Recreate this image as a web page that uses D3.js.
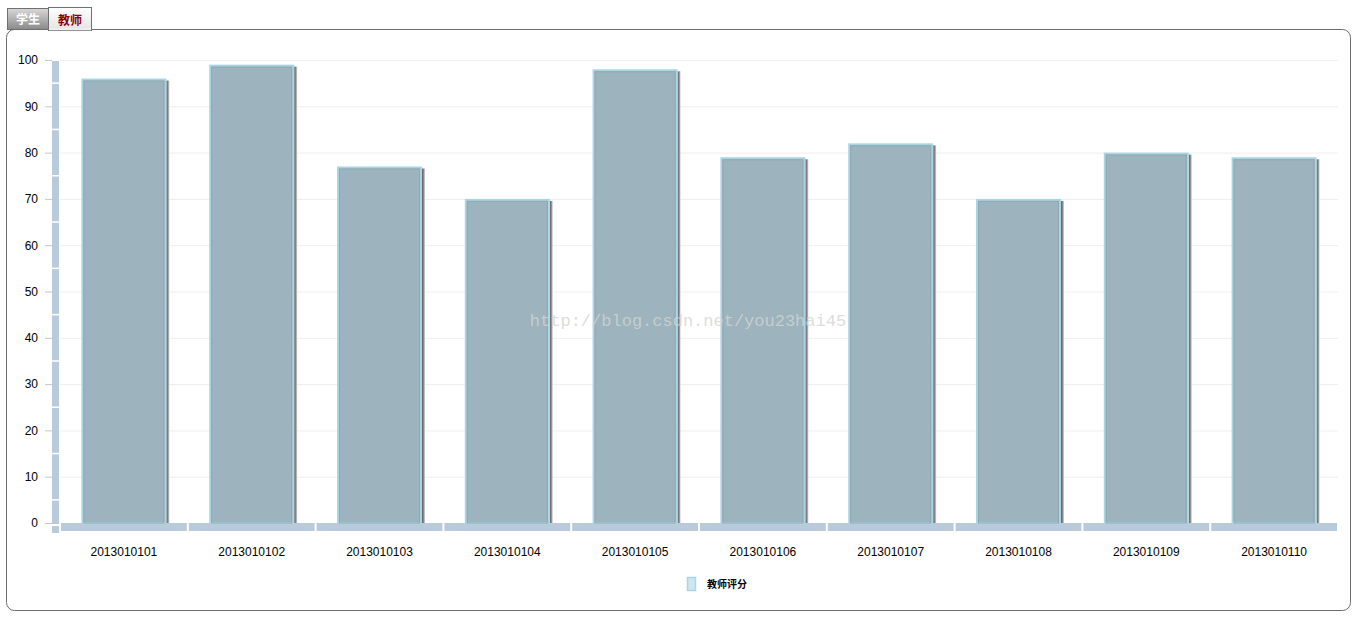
<!DOCTYPE html>
<html><head><meta charset="utf-8">
<script src="https://cdn.jsdelivr.net/npm/d3@7"></script>
<style>body{margin:0;background:#fff;font-family:Arial,"Liberation Sans",sans-serif}</style>
</head><body><svg id="c" width="1358" height="619"></svg>
<script>
const categories = ["2013010101","2013010102","2013010103","2013010104","2013010105","2013010106","2013010107","2013010108","2013010109","2013010110"];
const scores = [96, 99, 77, 70, 98, 79, 82, 70, 80, 79];
const yTicks = [0,10,20,30,40,50,60,70,80,90,100];
const seriesName = "教师评分";
const tabs = ["学生","教师"];

(function(){
const svg = d3.select("#c");
const defs = svg.append("defs");
const g1 = defs.append("linearGradient").attr("id","tabG").attr("x1",0).attr("y1",0).attr("x2",0).attr("y2",1);
g1.append("stop").attr("offset","0").attr("stop-color","#d8d8d8");
g1.append("stop").attr("offset","1").attr("stop-color","#8a8a8a");
const g2 = defs.append("linearGradient").attr("id","tabW").attr("x1",0).attr("y1",0).attr("x2",0).attr("y2",1);
g2.append("stop").attr("offset","0").attr("stop-color","#ffffff");
g2.append("stop").attr("offset","1").attr("stop-color","#e4e4e4");
const sh = defs.append("linearGradient").attr("id","shG").attr("x1",0).attr("y1",0).attr("x2",1).attr("y2",0);
sh.append("stop").attr("offset","0").attr("stop-color","#5a5a5a");
sh.append("stop").attr("offset","0.5").attr("stop-color","#8a8a8a");
sh.append("stop").attr("offset","1").attr("stop-color","#d8d8d8");

// panel
svg.append("rect").attr("x",6.5).attr("y",29.5).attr("width",1344).attr("height",581).attr("rx",8)
  .attr("fill","#fff").attr("stroke","#6b6b6b");
// tabs
svg.append("rect").attr("x",7.5).attr("y",8.5).attr("width",41).attr("height",21).attr("fill","url(#tabG)").attr("stroke","#707070");
svg.append("rect").attr("x",48.5).attr("y",7.5).attr("width",43).attr("height",23).attr("fill","url(#tabW)").attr("stroke","#707070");
svg.append("line").attr("x1",49).attr("x2",91).attr("y1",29.5).attr("y2",29.5).attr("stroke","#f2f2f2").attr("stroke-width",1.5);
svg.append("text").attr("x",28).attr("y",24).attr("text-anchor","middle").attr("fill","#fff").attr("font-weight","bold").attr("font-size",12).attr("font-family","Noto Sans CJK SC").text(tabs[0]);
svg.append("text").attr("x",70).attr("y",25).attr("text-anchor","middle").attr("fill","#8b0000").attr("font-weight","bold").attr("font-size",12).attr("font-family","Noto Sans CJK SC").text(tabs[1]);

const pL = 60, pR = 1338, pT = 60, pB = 523;
const x = d3.scaleBand().domain(categories).range([pL, pR]).paddingInner(0).paddingOuter(0);
const y = d3.scaleLinear().domain([0,100]).range([pB, pT]);

// gridlines
svg.append("g").selectAll("line").data(yTicks.filter(d=>d>0)).join("line")
  .attr("x1",pL).attr("x2",pR).attr("y1",d=>y(d)+0.5).attr("y2",d=>y(d)+0.5)
  .attr("stroke","#eeeeee");

// y wall
const wall = "#b9cbda";
svg.append("rect").attr("x",52).attr("y",pT+1).attr("width",7).attr("height",pB-pT+9).attr("fill",wall);
svg.append("g").selectAll("line").data(yTicks.map(d=>d+5).filter(d=>d<100)).join("line")
  .attr("x1",52).attr("x2",59).attr("y1",d=>y(d)).attr("y2",d=>y(d)).attr("stroke","#fff").attr("stroke-width",1.5);
svg.append("line").attr("x1",52).attr("x2",59).attr("y1",pB+2).attr("y2",pB+2).attr("stroke","#fff").attr("stroke-width",2);
// floor segments
svg.append("g").selectAll("rect").data(categories).join("rect")
  .attr("x",d=>x(d)+1).attr("y",pB).attr("width",x.bandwidth()-2).attr("height",8).attr("fill",wall);

// y axis ticks & labels
const ya = svg.append("g").attr("transform",`translate(52,0)`)
  .call(d3.axisLeft(y).tickValues(yTicks).tickSize(7).tickPadding(7));
ya.select(".domain").remove();
ya.selectAll(".tick line").attr("stroke","#b9cbda");
ya.selectAll("text").attr("font-size",12).attr("font-family","Arial").attr("fill","#000");

// bars
const bw = 85;
const bx = i => x(categories[i]) + x.bandwidth()/2 - bw/2;
const bars = svg.append("g");
bars.selectAll("rect.sh").data(scores).join("rect").attr("class","sh")
  .attr("x",(d,i)=>bx(i)+bw).attr("y",d=>y(d)+2)
  .attr("width",3).attr("height",d=>pB-y(d)-2).attr("fill","url(#shG)");
bars.selectAll("rect.b").data(scores).join("rect").attr("class","b")
  .attr("x",(d,i)=>bx(i)+1).attr("y",d=>y(d)+1)
  .attr("width",bw-2).attr("height",d=>pB-y(d)-1)
  .attr("fill","#9db3bd").attr("stroke","#a8d5e4").attr("stroke-width",2);
bars.selectAll("rect.in").data(scores).join("rect").attr("class","in")
  .attr("x",(d,i)=>bx(i)+2.5).attr("y",d=>y(d)+2.5)
  .attr("width",bw-5).attr("height",d=>pB-y(d)-2.5)
  .attr("fill","none").attr("stroke","#8fa9b4").attr("stroke-width",1);

// x labels
svg.append("g").selectAll("text").data(categories).join("text")
  .attr("x",d=>x(d)+x.bandwidth()/2).attr("y",556).attr("text-anchor","middle")
  .attr("font-size",12).attr("font-family","Arial").attr("fill","#000").text(d=>d);

// watermark
svg.append("text").attr("x",688).attr("y",326).attr("text-anchor","middle").attr("font-family","Liberation Mono, monospace")
  .attr("font-size",17).attr("fill","#d4d4d4").attr("fill-opacity",0.8).text("http://blog.csdn.net/you23hai45");

// legend
svg.append("rect").attr("x",687.5).attr("y",577.5).attr("width",8).attr("height",13).attr("fill","#cfe7f2").attr("stroke","#a9d6e5").attr("stroke-width",1.5);
svg.append("text").attr("x",707).attr("y",588).attr("font-size",10).attr("font-weight","bold").attr("font-family","Noto Sans CJK SC").attr("fill","#000").text(seriesName);
})();
</script></body></html>
